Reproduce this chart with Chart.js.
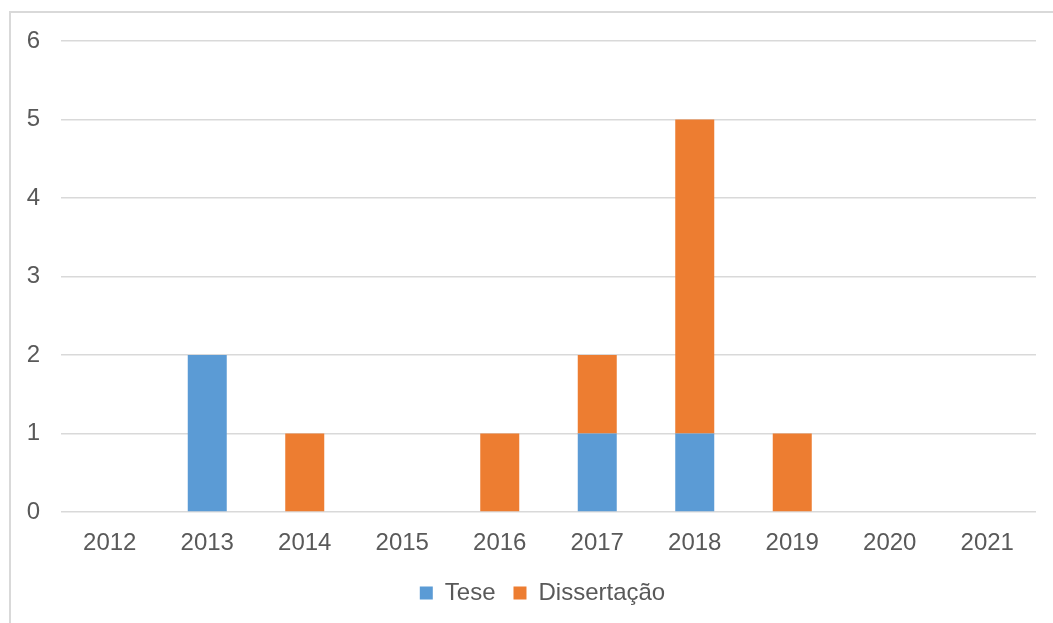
<!DOCTYPE html>
<html>
<head>
<meta charset="utf-8">
<script src="https://cdn.jsdelivr.net/npm/chart.js@4/dist/chart.umd.min.js"></script>
<style>
    html, body { margin: 0; padding: 0; background: #fff; overflow: hidden; }
    #frame {
        position: absolute; left: 9px; top: 11px; width: 1100px; height: 700px;
        border-left: 2px solid #d9d9d9; border-top: 2px solid #d9d9d9;
    }
    #wrap { position: absolute; left: 0; top: 0; width: 1053px; height: 623px; }
</style>
</head>
<body>
<div id="frame"></div>
<div id="wrap"><canvas id="anoChart"></canvas></div>
<script>
// Trabalhos por ano
var anos = ['2012', '2013', '2014', '2015', '2016', '2017', '2018', '2019', '2020', '2021'];
var tese = [0, 2, 0, 0, 0, 1, 1, 0, 0, 0];
var dissertacao = [0, 0, 1, 0, 1, 1, 4, 1, 0, 0];
var yTicks = [0, 1, 2, 3, 4, 5, 6];

var textColor = '#595959';
var fontFamily = '"Liberation Sans", Arial, sans-serif';

// keep the legend centred under the plot area instead of the whole canvas
var legendUnderPlot = {
    id: 'legendUnderPlot',
    afterLayout: function (chart) {
        var lg = chart.legend;
        var area = chart.chartArea;
        var shift = (area.left + area.right) / 2 - 6 - (lg.left + lg.right) / 2;
        lg.left += shift;
        lg.right += shift;
    }
};

var data = {
    labels: anos,
    datasets: [
        {
            label: 'Tese',
            data: tese,
            backgroundColor: '#5B9BD5',
            borderWidth: 0,
            barPercentage: 0.4,
            categoryPercentage: 1.0
        },
        {
            label: 'Dissertação',
            data: dissertacao,
            backgroundColor: '#ED7D31',
            borderWidth: 0,
            barPercentage: 0.4,
            categoryPercentage: 1.0
        }
    ]
};

var config = {
    type: 'bar',
    data: data,
    options: {
        responsive: true,
        maintainAspectRatio: false,
        animation: false,
        layout: {
            padding: { left: 0, right: 17, top: 41, bottom: 8 }
        },
        scales: {
            x: {
                stacked: true,
                grid: { display: false },
                border: { display: false },
                ticks: {
                    color: textColor,
                    font: { family: fontFamily, size: 24 },
                    padding: 9,
                    maxRotation: 0,
                    autoSkip: false
                },
                afterFit: function (scale) { scale.height = 51; }
            },
            y: {
                stacked: true,
                min: 0,
                max: 6,
                afterBuildTicks: function (scale) {
                    scale.ticks = yTicks.map(function (v) { return { value: v }; });
                },
                grid: { color: '#d9d9d9', lineWidth: 1.5, drawTicks: false },
                border: { display: false },
                ticks: {
                    color: textColor,
                    font: { family: fontFamily, size: 24 },
                    padding: 21
                },
                afterFit: function (scale) { scale.width = 61; }
            }
        },
        plugins: {
            legend: {
                position: 'bottom',
                labels: {
                    color: textColor,
                    font: { family: fontFamily, size: 24 },
                    boxWidth: 13,
                    boxHeight: 13,
                    padding: 18
                }
            },
            tooltip: { enabled: false }
        }
    },
    plugins: [legendUnderPlot]
};

var anoChart = new Chart(document.getElementById('anoChart'), config);
</script>
</body>
</html>
